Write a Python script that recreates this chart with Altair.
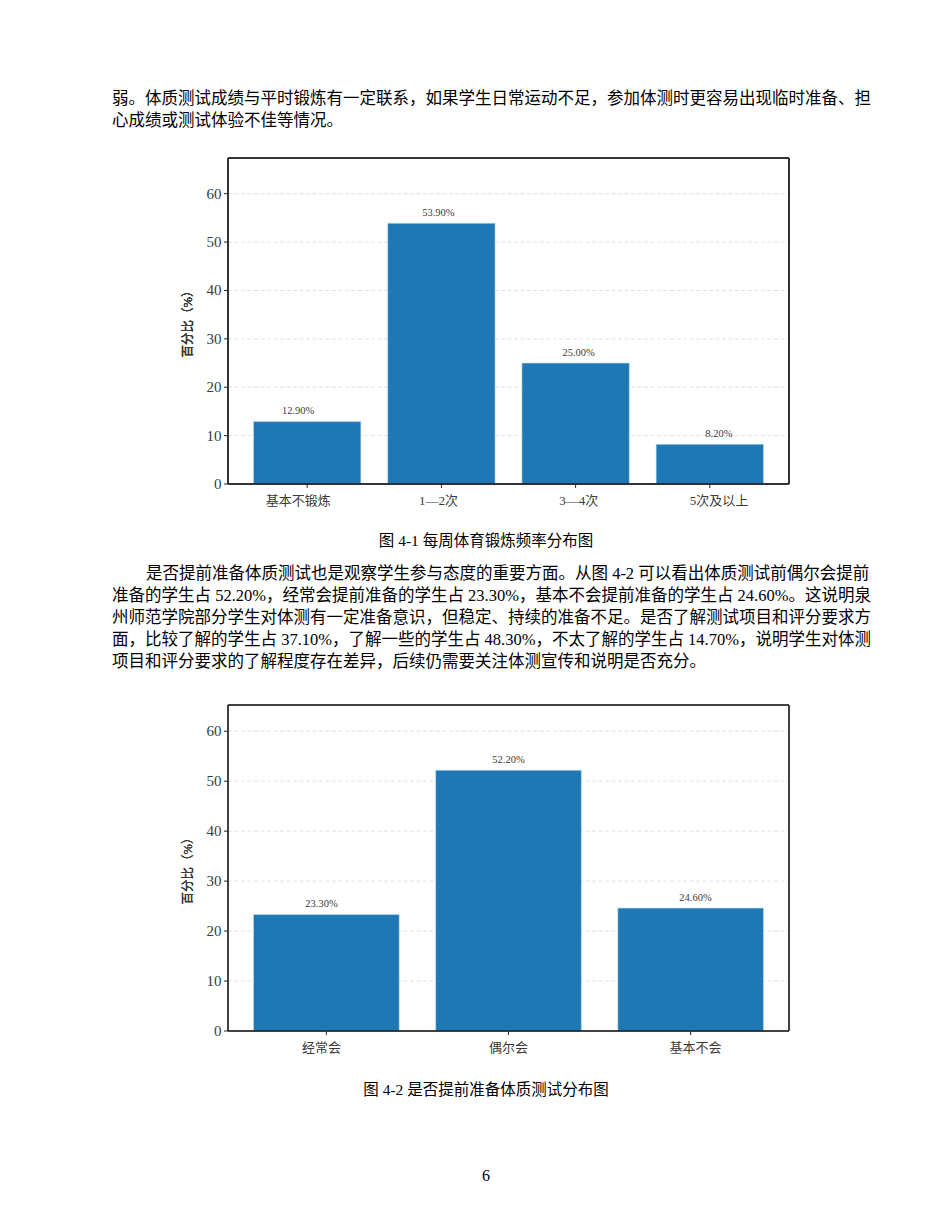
import altair as alt
import pandas as pd

# ---------------- data ----------------
freq_cats = ["基本不锻炼", "1—2次", "3—4次", "5次及以上"]
freq_vals = [12.9, 53.9, 25.0, 8.2]
freq_labels = ["12.90%", "53.90%", "25.00%", "8.20%"]

prep_cats = ["经常会", "偶尔会", "基本不会"]
prep_vals = [23.3, 52.2, 24.6]
prep_labels = ["23.30%", "52.20%", "24.60%"]

y_tick_values = [0, 10, 20, 30, 40, 50, 60]
grid_values = [10, 20, 30, 40, 50, 60]
y_title = "百分比（%）"

para1 = [
    "弱。体质测试成绩与平时锻炼有一定联系，如果学生日常运动不足，参加体测时更容易出现临时准备、担",
    "心成绩或测试体验不佳等情况。",
]
para2_first = "是否提前准备体质测试也是观察学生参与态度的重要方面。从图 4-2 可以看出体质测试前偶尔会提前"
para2 = [
    "准备的学生占 52.20%，经常会提前准备的学生占 23.30%，基本不会提前准备的学生占 24.60%。这说明泉",
    "州师范学院部分学生对体测有一定准备意识，但稳定、持续的准备不足。是否了解测试项目和评分要求方",
    "面，比较了解的学生占 37.10%，了解一些的学生占 48.30%，不太了解的学生占 14.70%，说明学生对体测",
    "项目和评分要求的了解程度存在差异，后续仍需要关注体测宣传和说明是否充分。",
]
caption1 = "图 4-1 每周体育锻炼频率分布图"
caption2 = "图 4-2 是否提前准备体质测试分布图"
page_no = "6"

# ---------------- styles ----------------
FONT = "Liberation Serif, Noto Sans CJK SC"
BODY_FONT = "Liberation Serif, Noto Sans CJK SC"
BAR_COLOR = "#1f77b4"
AXIS_COLOR = "#262626"
TEXT_GRAY = "#3a3a3a"

W, H = 934, 1214


def bar_panel(cats, vals, labels, top, bottom, ymax, pad_outer):
    left, right = 220, 781
    xs = alt.Scale(domain=cats, range=[left, right], paddingInner=0.2, paddingOuter=pad_outer)
    ys = alt.Scale(domain=[0, ymax], range=[bottom, top], nice=False, zero=True)
    df = pd.DataFrame({"cat": cats, "val": vals, "lab": labels})
    tdf = pd.DataFrame({"v": y_tick_values, "lab": [str(v) for v in y_tick_values]})
    gdf = pd.DataFrame({"v": grid_values})

    X = alt.X("cat:N", scale=xs, axis=None, sort=None, bandPosition=0.5)
    Xb = alt.X("cat:N", scale=xs, axis=None, sort=None)

    grid = alt.Chart(gdf).mark_rule(color="#d9d9d9", strokeDash=[4, 2.5], strokeWidth=0.8).encode(
        y=alt.Y("v:Q", scale=ys, axis=None), x=alt.value(left), x2=alt.value(right)
    )
    bars = alt.Chart(df).mark_bar(color=BAR_COLOR, stroke="#bfe2f5", strokeWidth=0.6).encode(
        x=Xb, y=alt.Y("val:Q", scale=ys, axis=None)
    )
    blabels = alt.Chart(df).mark_text(
        font=FONT, fontSize=10.5, color=TEXT_GRAY, baseline="middle", dy=-10.5
    ).encode(x=X, y=alt.Y("val:Q", scale=ys, axis=None), text="lab:N")
    frame = alt.Chart(df).mark_rect(fillOpacity=0, stroke=AXIS_COLOR, strokeWidth=1).encode(
        x=alt.value(left), x2=alt.value(right), y=alt.value(top), y2=alt.value(bottom)
    )
    yticks = alt.Chart(tdf).mark_rule(color=AXIS_COLOR, strokeWidth=1).encode(
        y=alt.Y("v:Q", scale=ys, axis=None), x=alt.value(left - 4), x2=alt.value(left)
    )
    ylabels = alt.Chart(tdf).mark_text(
        font=FONT, fontSize=15, color=TEXT_GRAY, align="right", baseline="middle"
    ).encode(y=alt.Y("v:Q", scale=ys, axis=None), x=alt.value(left - 6.5), text="lab:N")
    xticks = alt.Chart(df).mark_rule(color=AXIS_COLOR, strokeWidth=1).encode(
        x=X, y=alt.value(bottom), y2=alt.value(bottom + 4)
    )
    xlabels = alt.Chart(df).mark_text(
        font=FONT, fontSize=13, color=TEXT_GRAY, baseline="middle"
    ).encode(x=X, y=alt.value(bottom + 17), text="cat:N")
    ytitle = alt.Chart(df).mark_text(
        font=FONT, fontSize=12.5, color=TEXT_GRAY, angle=270, baseline="middle", align="center"
    ).encode(x=alt.value(180), y=alt.value((top + bottom) / 2), text=alt.value(y_title))
    return [grid, bars, blabels, frame, yticks, ylabels, xticks, xlabels, ytitle]


def text_block(lines, y0, x0, size=16.5):
    df = pd.DataFrame({"i": list(range(len(lines))), "t": lines})
    return alt.Chart(df).mark_text(
        font=BODY_FONT, fontSize=size, color="#000000", align="left", baseline="middle"
    ).encode(
        y=alt.Y("i:Q", scale=alt.Scale(domain=[0, 1], range=[y0, y0 + 22], nice=False, zero=False), axis=None),
        x=alt.value(x0),
        text="t:N",
    )


def single_text(txt, x, y, size, align="center"):
    df = pd.DataFrame({"t": [txt]})
    return alt.Chart(df).mark_text(
        font=BODY_FONT, fontSize=size, color="#000000", align=align, baseline="middle"
    ).encode(x=alt.value(x), y=alt.value(y), text="t:N")


layers = []
layers.append(text_block(para1, 91, 104))
layers += bar_panel(freq_cats, freq_vals, freq_labels, 150, 476, 53.9 * 1.25, 0.19)
layers.append(single_text(caption1, 478, 533, 15.5))
layers.append(single_text(para2_first, 138, 566, 16.5, align="left"))
layers.append(text_block(para2, 588, 104))
layers += bar_panel(prep_cats, prep_vals, prep_labels, 697, 1023, 52.2 * 1.25, 0.14)
layers.append(single_text(caption2, 478, 1082, 15.5))
layers.append(single_text(page_no, 478, 1168, 16))

chart = (
    alt.layer(*layers)
    .resolve_scale(x="independent", y="independent")
    .properties(width=W, height=H, autosize=alt.AutoSizeParams(type="none"), padding=0, background="white")
    .configure_view(stroke=None)
)

chart.save("out.html", embed_options={"renderer": "svg", "actions": False})
